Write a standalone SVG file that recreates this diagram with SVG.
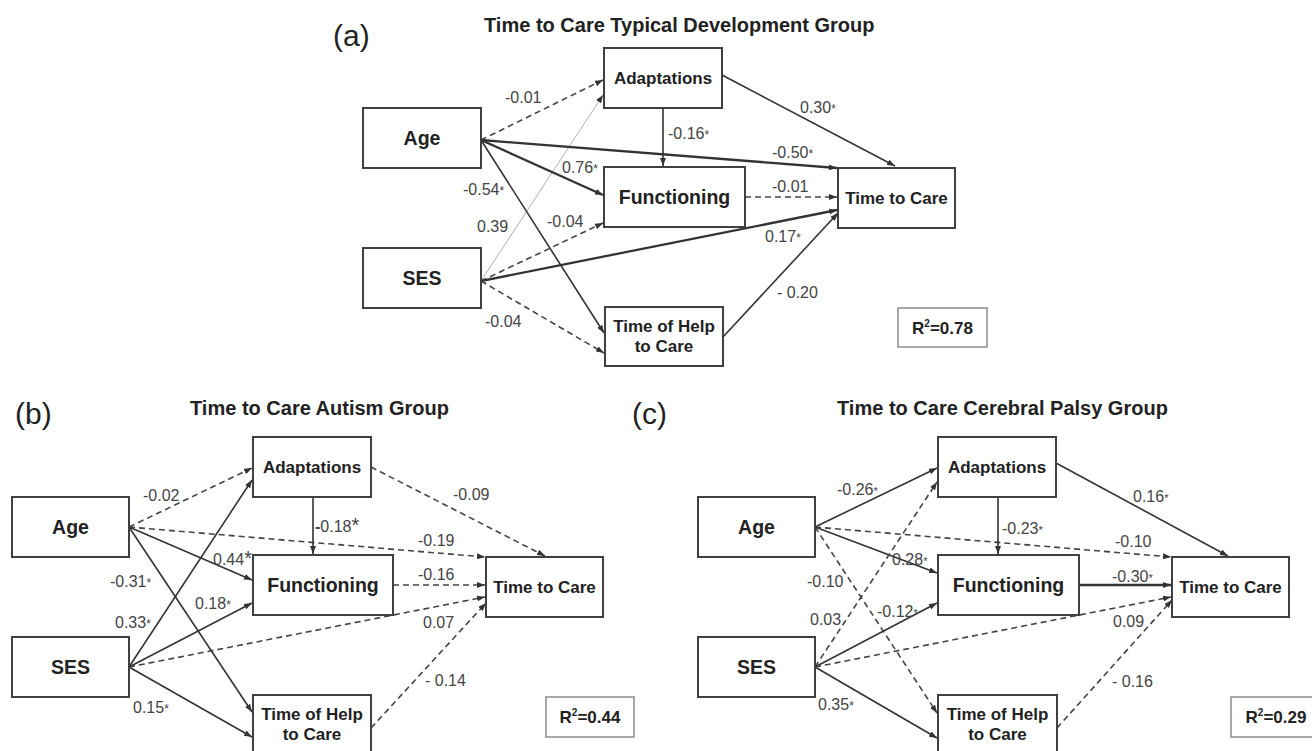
<svg xmlns="http://www.w3.org/2000/svg" width="1312" height="751" viewBox="0 0 1312 751">
<style>
.bg{fill:#ffffff}
.box{fill:#ffffff;stroke:#404040;stroke-width:2}
.r2{fill:#ffffff;stroke:#8c8c8c;stroke-width:1.5}
.nl{font-family:"Liberation Sans",Arial,sans-serif;font-weight:bold;font-size:19.5px;fill:#222;text-anchor:middle}
.ns{font-family:"Liberation Sans",Arial,sans-serif;font-weight:bold;font-size:17px;fill:#222;text-anchor:middle}
.el{font-family:"Liberation Sans",Arial,sans-serif;font-size:16px;fill:#444}
.title{font-family:"Liberation Sans",Arial,sans-serif;font-weight:bold;font-size:20px;fill:#222}
.panel{font-family:"Liberation Sans",Arial,sans-serif;font-size:30px;fill:#222}
.rt{font-family:"Liberation Sans",Arial,sans-serif;font-weight:bold;font-size:17px;fill:#222;text-anchor:middle}
.s{stroke:#333;stroke-width:1.6;fill:none;marker-end:url(#arr)}
.sb{stroke-width:2.3}
.d{stroke-dasharray:6 4;stroke:#444}
.thin{stroke:#9a9a9a;stroke-width:0.8}
.sm{font-size:12px}
.xs{font-size:11px}
.big{font-size:20px}
</style>
<defs>
<marker id="arr" markerUnits="userSpaceOnUse" markerWidth="8" markerHeight="6" refX="8" refY="3" orient="auto">
<path d="M0,0 L8,3 L0,6 z" fill="#333"/>
</marker>
</defs>
<rect class="bg" x="0" y="0" width="1312" height="751"/>

<!-- Panel labels and titles -->
<text class="panel" x="333" y="46">(a)</text>
<text class="title" x="484" y="32">Time to Care Typical Development Group</text>
<text class="panel" x="15" y="424">(b)</text>
<text class="title" x="190" y="415">Time to Care Autism Group</text>
<text class="panel" x="632" y="424">(c)</text>
<text class="title" x="837" y="415">Time to Care Cerebral Palsy Group</text>

<g id="connectors">
<!-- panel a -->
<line class="s d" x1="481" y1="140" x2="603" y2="80"/>
<line class="s thin" x1="481" y1="281" x2="603" y2="95"/>
<line class="s sb" x1="481" y1="140" x2="603" y2="195"/>
<line class="s" x1="481" y1="140" x2="604" y2="333"/>
<line class="s sb" x1="481" y1="140" x2="837" y2="168"/>
<line class="s" x1="722" y1="75" x2="895" y2="166"/>
<line class="s d" x1="745" y1="197" x2="837" y2="197"/>
<line class="s d" x1="481" y1="281" x2="603" y2="223"/>
<line class="s sb" x1="481" y1="281" x2="837" y2="210"/>
<line class="s d" x1="481" y1="281" x2="604" y2="353"/>
<line class="s" x1="723" y1="337" x2="838" y2="213"/>
<line class="s" x1="663" y1="108" x2="663" y2="166"/>
<!-- panel b -->
<line class="s d" x1="129" y1="527" x2="252" y2="468"/>
<line class="s d" x1="129" y1="527" x2="485" y2="557"/>
<line class="s" x1="129" y1="527" x2="252" y2="580"/>
<line class="s" x1="129" y1="527" x2="252" y2="712"/>
<line class="s" x1="129" y1="667" x2="252" y2="480"/>
<line class="s" x1="129" y1="667" x2="252" y2="603"/>
<line class="s d" x1="129" y1="667" x2="485" y2="597"/>
<line class="s" x1="129" y1="667" x2="252" y2="737"/>
<line class="s" x1="313" y1="497" x2="313" y2="554"/>
<line class="s d" x1="371" y1="467" x2="545" y2="556"/>
<line class="s d" x1="393" y1="585" x2="485" y2="585"/>
<line class="s d" x1="371" y1="728" x2="486" y2="603"/>
<!-- panel c -->
<line class="s" x1="815" y1="527" x2="937" y2="468"/>
<line class="s d" x1="815" y1="527" x2="1171" y2="557"/>
<line class="s" x1="815" y1="527" x2="937" y2="573"/>
<line class="s d" x1="815" y1="527" x2="937" y2="713"/>
<line class="s d" x1="815" y1="667" x2="937" y2="482"/>
<line class="s" x1="815" y1="667" x2="937" y2="603"/>
<line class="s d" x1="815" y1="667" x2="1171" y2="597"/>
<line class="s" x1="815" y1="667" x2="937" y2="738"/>
<line class="s" x1="998" y1="497" x2="998" y2="554"/>
<line class="s" x1="1056" y1="463" x2="1228" y2="556"/>
<line class="s sb" x1="1079" y1="585" x2="1171" y2="585"/>
<line class="s d" x1="1057" y1="728" x2="1172" y2="600"/>
</g>

<g id="edge-labels">
<!-- a -->
<text class="el" x="505" y="103">-0.01</text>
<text class="el" x="668" y="139">-0.16<tspan class="sm">*</tspan></text>
<text class="el" x="562" y="173">0.76<tspan class="sm">*</tspan></text>
<text class="el" x="463" y="195">-0.54<tspan class="sm">*</tspan></text>
<text class="el" x="800" y="113">0.30<tspan class="sm">*</tspan></text>
<text class="el" x="772" y="158">-0.50<tspan class="sm">*</tspan></text>
<text class="el" x="772" y="192">-0.01</text>
<text class="el" x="765" y="242">0.17<tspan class="sm">*</tspan></text>
<text class="el" x="477" y="232">0.39</text>
<text class="el" x="547" y="227">-0.04</text>
<text class="el" x="485" y="327">-0.04</text>
<text class="el" x="777" y="298">- 0.20</text>
<!-- b -->
<text class="el" x="143" y="501">-0.02</text>
<text class="el" x="110" y="587">-0.31<tspan class="sm">*</tspan></text>
<text class="el" x="115" y="628">0.33<tspan class="sm">*</tspan></text>
<text class="el" x="213" y="565">0.44<tspan class="big">*</tspan></text>
<text class="el" x="195" y="609">0.18<tspan class="sm">*</tspan></text>
<text class="el" x="133" y="713">0.15<tspan class="sm">*</tspan></text>
<text class="el" x="315" y="532"><tspan font-weight="bold">-</tspan>0.18<tspan class="big">*</tspan></text>
<text class="el" x="453" y="500">-0.09</text>
<text class="el" x="418" y="546">-0.19</text>
<text class="el" x="418" y="580">-0.16</text>
<text class="el" x="423" y="628">0.07</text>
<text class="el" x="425" y="686">- 0.14</text>
<!-- c -->
<text class="el" x="837" y="495">-0.26<tspan class="xs">*</tspan></text>
<text class="el" x="807" y="587">-0.10</text>
<text class="el" x="810" y="625">0.03</text>
<text class="el" x="892" y="565">0.28<tspan class="xs">*</tspan></text>
<text class="el" x="877" y="617">-0.12<tspan class="xs">*</tspan></text>
<text class="el" x="818" y="710">0.35<tspan class="sm">*</tspan></text>
<text class="el" x="1002" y="534">-0.23<tspan class="xs">*</tspan></text>
<text class="el" x="1133" y="502">0.16<tspan class="xs">*</tspan></text>
<text class="el" x="1115" y="547">-0.10</text>
<text class="el" x="1112" y="582">-0.30<tspan class="xs">*</tspan></text>
<text class="el" x="1113" y="627">0.09</text>
<text class="el" x="1112" y="687">- 0.16</text>
</g>

<!-- Panel a nodes -->
<g id="a-adaptations"><rect class="box" x="604" y="48" width="118" height="60"/><text class="ns" x="663" y="84">Adaptations</text></g>
<g id="a-age"><rect class="box" x="363" y="108" width="118" height="60"/><text class="nl" x="422" y="145">Age</text></g>
<g id="a-functioning"><rect class="box" x="604" y="167" width="141" height="60"/><text class="nl" x="674.5" y="204">Functioning</text></g>
<g id="a-timetocare"><rect class="box" x="838" y="168" width="117" height="60"/><text class="ns" x="896.5" y="204">Time to Care</text></g>
<g id="a-ses"><rect class="box" x="363" y="248" width="118" height="60"/><text class="nl" x="422" y="285">SES</text></g>
<g id="a-timeofhelp"><rect class="box" x="605" y="307" width="118" height="59"/><text class="ns" x="664" y="332">Time of Help</text><text class="ns" x="664" y="352">to Care</text></g>
<g id="a-r2"><rect class="r2" x="898" y="308" width="89" height="39"/><text class="rt" x="942.5" y="334">R<tspan font-size="10" dy="-7">2</tspan><tspan dy="7">=0.78</tspan></text></g>

<!-- Panel b nodes -->
<g id="b-adaptations"><rect class="box" x="253" y="437" width="118" height="60"/><text class="ns" x="312" y="473">Adaptations</text></g>
<g id="b-age"><rect class="box" x="12" y="497" width="117" height="60"/><text class="nl" x="70.5" y="534">Age</text></g>
<g id="b-functioning"><rect class="box" x="253" y="555" width="140" height="60"/><text class="nl" x="323" y="592">Functioning</text></g>
<g id="b-timetocare"><rect class="box" x="486" y="557" width="117" height="60"/><text class="ns" x="544.5" y="593">Time to Care</text></g>
<g id="b-ses"><rect class="box" x="12" y="637" width="117" height="60"/><text class="nl" x="70.5" y="674">SES</text></g>
<g id="b-timeofhelp"><rect class="box" x="253" y="695" width="118" height="64"/><text class="ns" x="312" y="720">Time of Help</text><text class="ns" x="312" y="740">to Care</text></g>
<g id="b-r2"><rect class="r2" x="546" y="697" width="88" height="40"/><text class="rt" x="590" y="723">R<tspan font-size="10" dy="-7">2</tspan><tspan dy="7">=0.44</tspan></text></g>

<!-- Panel c nodes -->
<g id="c-adaptations"><rect class="box" x="938" y="437" width="118" height="60"/><text class="ns" x="997" y="473">Adaptations</text></g>
<g id="c-age"><rect class="box" x="698" y="497" width="117" height="60"/><text class="nl" x="756.5" y="534">Age</text></g>
<g id="c-functioning"><rect class="box" x="938" y="555" width="141" height="60"/><text class="nl" x="1008.5" y="592">Functioning</text></g>
<g id="c-timetocare"><rect class="box" x="1172" y="557" width="117" height="60"/><text class="ns" x="1230.5" y="593">Time to Care</text></g>
<g id="c-ses"><rect class="box" x="698" y="637" width="117" height="60"/><text class="nl" x="756.5" y="674">SES</text></g>
<g id="c-timeofhelp"><rect class="box" x="938" y="695" width="119" height="64"/><text class="ns" x="997.5" y="720">Time of Help</text><text class="ns" x="997.5" y="740">to Care</text></g>
<g id="c-r2"><rect class="r2" x="1231" y="697" width="92" height="40"/><text class="rt" x="1276" y="723">R<tspan font-size="10" dy="-7">2</tspan><tspan dy="7">=0.29</tspan></text></g>
</svg>
